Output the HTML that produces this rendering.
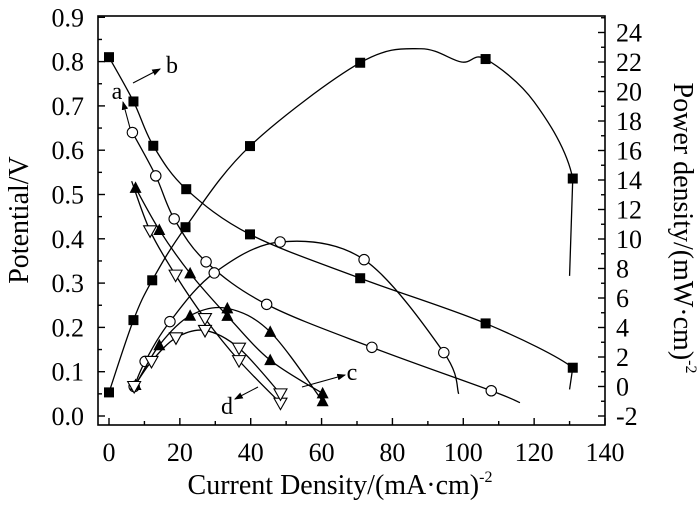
<!DOCTYPE html>
<html><head><meta charset="utf-8"><style>
html,body{margin:0;padding:0;background:#fff}
svg{display:block}
text{font-family:"Liberation Serif",serif;fill:#000}
</style></head><body>
<svg id="chart" width="700" height="506" viewBox="0 0 700 506" xmlns="http://www.w3.org/2000/svg"></svg>
<script>
// x-axis ticks
const xTicks=[0,20,40,60,80,100,120,140];
const vTicks=[0.0,0.1,0.2,0.3,0.4,0.5,0.6,0.7,0.8,0.9];
const pTicks=[-2,0,2,4,6,8,10,12,14,16,18,20,22,24];
// curve a (open circles)
const aPolX=[6.6,13.2,18.4,27.4,44.5,74.2,107.9];
const aPolV=[0.64,0.542,0.445,0.348,0.252,0.155,0.057];
const aPowX=[7.1,10.2,17.2,29.7,48.3,72,94.5];
const aPowP=[0.0,1.7,4.4,7.7,9.8,8.6,2.3];
// curve b (filled squares)
const bPolX=[0,6.9,12.5,21.8,39.8,70.9,106.3,130.9];
const bPolV=[0.81,0.71,0.61,0.512,0.41,0.311,0.209,0.109];
const bPowX=[0,6.9,12.2,21.6,39.8,70.9,106.3,130.9];
const bPowP=[-0.4,4.5,7.2,10.8,16.3,21.95,22.2,14.1];
// curve c (filled triangles)
const cPolX=[7.5,14.2,22.9,33.4,45.5,60.3];
const cPolV=[0.515,0.42,0.322,0.226,0.126,0.051];
const cPowX=[7.5,14.2,22.9,33.4,45.5,60.3];
const cPowP=[0.1,2.8,4.8,5.3,3.7,-1.0];
// curve d (open down triangles)
const dPolX=[11.6,18.8,27.1,36.7,48.4];
const dPolV=[0.418,0.318,0.22,0.125,0.029];
const dPowX=[7.1,12,18.9,27.1,36.7,48.4];
const dPowP=[0.0,1.7,3.3,3.8,2.6,-0.5];

const L=98,R=605,T=16,B=425;
const X=v=>109+v*(605-109)/140;
const YV=v=>416-v*443;
const YP=p=>416-(p+2)*14.75;
const svg=document.getElementById('chart');
const NS='http://www.w3.org/2000/svg';
function mk(tag,attrs,parent){const e=document.createElementNS(NS,tag);for(const k in attrs)e.setAttribute(k,attrs[k]);(parent||svg).appendChild(e);return e;}

const frame=mk('rect',{x:L,y:T,width:R-L,height:B-T,fill:'none',stroke:'#000','stroke-width':1.6});



const gx=mk('g',{});


for(let v=0;v<=140;v+=10){const px=X(v);mk('line',{x1:px,x2:px,y1:B,y2:B-(v%20===0?7:4),stroke:'#000','stroke-width':1.4},gx);}
xTicks.forEach(v=>{const t=mk('text',{x:X(v),y:461,'font-size':26,'text-anchor':'middle'},gx);t.textContent=v;

});
const gl=mk('g',{});


for(let i=0;i<=18;i++){const v=i*0.05;const py=YV(v);mk('line',{x1:L,x2:L+(i%2===0?7:4),y1:py,y2:py,stroke:'#000','stroke-width':1.4},gl);}
vTicks.forEach(v=>{const t=mk('text',{x:84,y:YV(v)+9,'font-size':26,'text-anchor':'end'},gl);t.textContent=v.toFixed(1);

});
const gr=mk('g',{});


for(let p=-2;p<=25;p++){const py=YP(p);mk('line',{x1:R,x2:R-(p%2===0?7:4),y1:py,y2:py,stroke:'#000','stroke-width':1.4},gr);}
pTicks.forEach(p=>{const t=mk('text',{x:616,y:YP(p)+9,'font-size':26},gr);t.textContent=p;

});

const xt=mk('text',{x:340,y:494,'font-size':28,'text-anchor':'middle'});
xt.innerHTML='Current Density/(mA·cm)<tspan dy="-12" font-size="16">-2</tspan>';


const lt=mk('text',{x:0,y:0,'font-size':28,'text-anchor':'middle',transform:'translate(28,220) rotate(-90)'});
lt.textContent='Potential/V';


const rt=mk('text',{x:0,y:0,'font-size':28,'text-anchor':'middle',transform:'translate(674,228) rotate(90)'});
rt.innerHTML='Power density/(mW·cm)<tspan dy="-12" font-size="16">-2</tspan>';



function spline(pts,linearLast){let d='M'+pts[0][0]+','+pts[0][1];
const n=pts.length-1;
for(let i=0;i<n;i++){
 if(linearLast&&i===n-1){d+=' L'+pts[n];continue;}
 const p0=pts[Math.max(0,i-1)],p1=pts[i],p2=pts[i+1],p3=pts[Math.min(n,i+2)];
 const c1=[p1[0]+(p2[0]-p0[0])/6,p1[1]+(p2[1]-p0[1])/6],c2=[p2[0]-(p3[0]-p1[0])/6,p2[1]-(p3[1]-p1[1])/6];
 d+=' C'+c1+' '+c2+' '+p2;}return d;}
function marker(g,type,x,y){
 if(type==='sq')return mk('rect',{x:x-5,y:y-5,width:10,height:10,fill:'#000'},g);
 if(type==='ci')return mk('circle',{cx:x,cy:y,r:5.2,fill:'#fff',stroke:'#000','stroke-width':1.1},g);
 if(type==='tu')return mk('polygon',{points:`${x},${y-6.5} ${x-6},${y+5} ${x+6},${y+5}`,fill:'#000'},g);
 return mk('polygon',{points:`${x},${y+6.5} ${x-6.5},${y-5} ${x+6.5},${y-5}`,fill:'#fff',stroke:'#000','stroke-width':1.1},g);
}
// extra curve-shape knots (no markers)
const bPowKnotX=[88,99.5,120];
const bPowKnotP=[22.9,22.0,19.3];
function series(name,xs,ys,yf,type,pre,post,knots,linearLast){
 const g=mk('g',{});
 
 
 const pts=xs.map((x,i)=>[X(x),yf(ys[i])]);
 let path=pts.map(p=>p.slice());
 if(knots){path=path.concat(knots.map(k=>[X(k[0]),yf(k[1])]));path.sort((a,b)=>a[0]-b[0]);}
 const all=(pre?[pre]:[]).concat(path).concat(post?[post]:[]);
 mk('path',{d:spline(all,linearLast),fill:'none',stroke:'#000','stroke-width':1.3},g);
 pts.forEach(p=>{const m=marker(g,type,p[0],p[1]);
 
 });
}
series('curve-a-polarization',aPolX,aPolV,YV,'ci',null,[X(116),YV(0.03)]);
series('curve-a-power',aPowX,aPowP,YP,'ci',null,[X(98.7),YP(-0.5)]);
series('curve-b-polarization',bPolX,bPolV,YV,'sq',null,[X(130),YV(0.06)],null,true);
series('curve-b-power',bPowX,bPowP,YP,'sq',null,[X(130),YP(7.5)],bPowKnotX.map((x,i)=>[x,bPowKnotP[i]]),true);
series('curve-c-polarization',cPolX,cPolV,YV,'tu',null,null);
series('curve-c-power',cPowX,cPowP,YP,'tu',null,null);
series('curve-d-polarization',dPolX,dPolV,YV,'td',[X(6.4),YV(0.53)],null);
series('curve-d-power',dPowX,dPowP,YP,'td',null,null);

const defs=mk('defs',{});
const mkr=mk('marker',{id:'ah',markerWidth:8,markerHeight:6,refX:7,refY:3,orient:'auto'},defs);
mk('path',{d:'M0,0 L8,3 L0,6 Z',fill:'#000'},mkr);
function ann(name,label,lx,ly,x1,y1,x2,y2){
 const g=mk('g',{});
 
 
 mk('line',{x1,y1,x2,y2,stroke:'#000','stroke-width':1.1,'marker-end':'url(#ah)'},g);
 const t=mk('text',{x:lx,y:ly,'font-size':24,'text-anchor':'middle'},g);t.textContent=label;
}
ann('label-a','a',117,99,130,128,123,102);
ann('label-b','b',172,73,133,83,160,69);
ann('label-c','c',352,380,302,387,345,375);
ann('label-d','d',227,414,258,387,235,399);
</script>
</body></html>
